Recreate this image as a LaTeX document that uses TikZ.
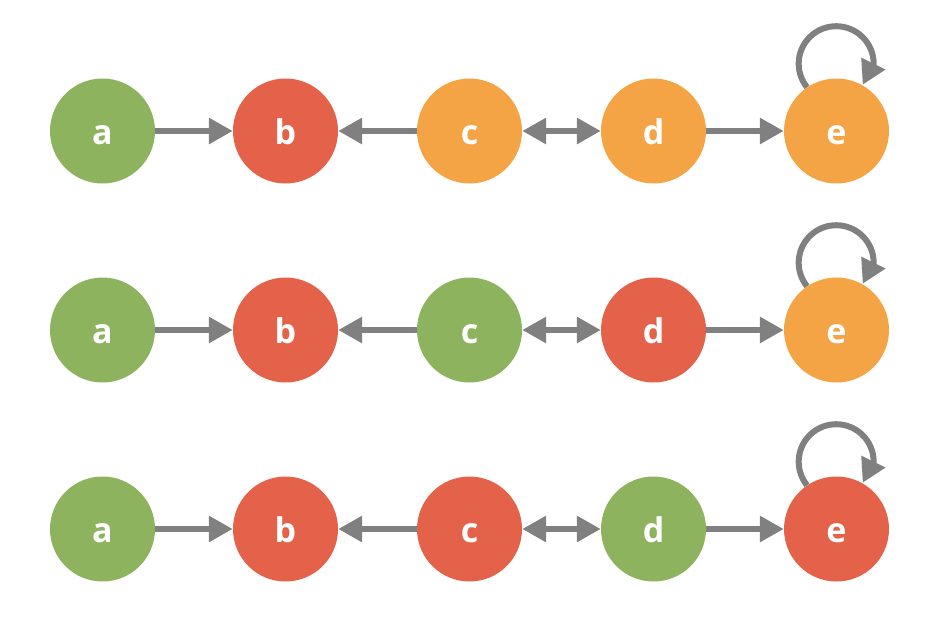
\documentclass[tikz,border=0pt]{standalone}
\usepackage{fontspec}
\setmainfont{Open Sans}
\usetikzlibrary{arrows.meta}
\definecolor{cgreen}{HTML}{8DB35F}
\definecolor{cred}{HTML}{E5624A}
\definecolor{corange}{HTML}{F5A445}
\definecolor{cgray}{HTML}{808080}
\tikzset{
  st/.style={circle, draw=none, fill=#1, minimum size=105pt, inner sep=0pt,
    text height=26pt, text depth=0pt,
    text=white, font=\fontsize{34}{34}\selectfont\bfseries},
  con/.style={draw=cgray, line width=6pt, -{Triangle[length=24pt,width=25pt]}},
  bicon/.style={draw=cgray, line width=6pt, {Triangle[length=24pt,width=25pt]}-{Triangle[length=24pt,width=25pt]}},
  loopline/.style={draw=cgray, line width=6pt},
}
\begin{document}
\begin{tikzpicture}[x=1pt,y=-1pt]
\useasboundingbox (0,0) rectangle (934,616);
\foreach \r/\y/\ca/\cb/\cc/\cd/\ce in {1/131/cgreen/cred/corange/corange/corange,
                                     2/330/cgreen/cred/cgreen/cred/corange,
                                     3/529/cgreen/cred/cred/cgreen/cred}{
  \node[st=\ca] (a\r) at (102.5,\y) {a};
  \node[st=\cb] (b\r) at (285.5,\y) {b};
  \node[st=\cc] (c\r) at (469.5,\y) {c};
  \node[st=\cd] (d\r) at (653.5,\y) {d};
  \node[st=\ce] (e\r) at (836.5,\y) {e};
  \draw[con] (a\r) -- (b\r);
  \draw[con] (c\r) -- (b\r);
  \draw[bicon] (c\r) -- (d\r);
  \draw[con] (d\r) -- (e\r);
  \coordinate (lb\r) at (862,\y-60);
  \coordinate (lt\r) at (886,\y-61.5);
  \draw[loopline] (e\r.124) arc[start angle=141, end angle=365, radius=37.5];
  \draw[con] (lb\r) -- (lt\r);
}
\end{tikzpicture}
\end{document}
